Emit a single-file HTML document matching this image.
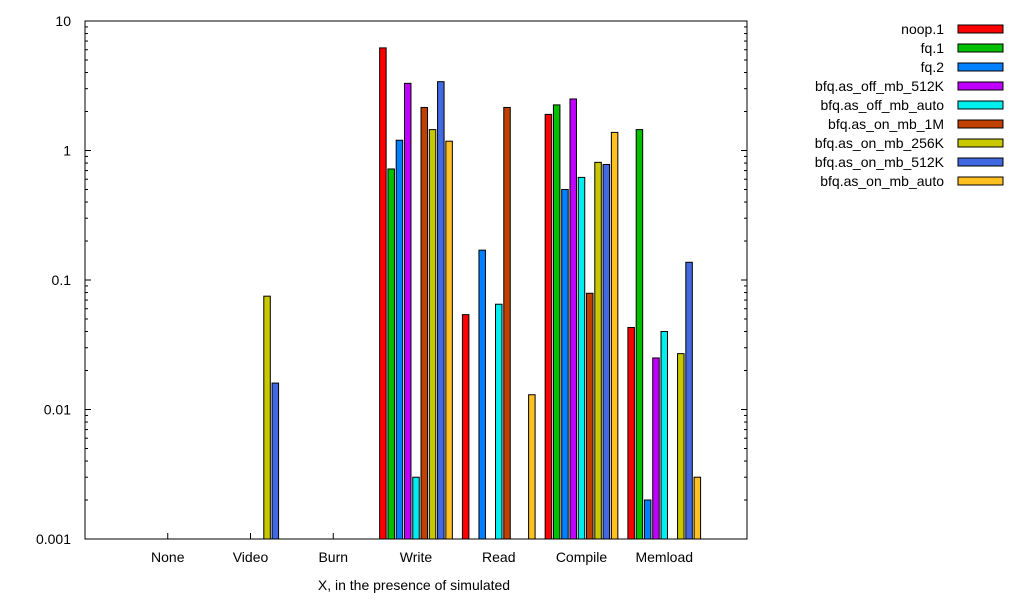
<!DOCTYPE html>
<html><head><meta charset="utf-8"><style>
body{margin:0;background:#fff}
svg{display:block;font-family:"Liberation Sans",sans-serif;font-size:14px}
</style></head><body>
<svg id="chart" width="1024" height="600" viewBox="0 0 1024 600" xmlns="http://www.w3.org/2000/svg">
<rect x="0" y="0" width="1024" height="600" fill="#fff"/>
<g id="grid"></g>
<g id="bars"></g>
<rect x="85" y="21" width="662" height="518" fill="none" stroke="#000" stroke-width="1"/>
<text x="414" y="590" text-anchor="middle">X, in the presence of simulated</text>
<g id="legend"></g>
</svg>
<script>
const categories = ["None","Video","Burn","Write","Read","Compile","Memload"];
const seriesNames = ["noop.1","fq.1","fq.2","bfq.as_off_mb_512K","bfq.as_off_mb_auto","bfq.as_on_mb_1M","bfq.as_on_mb_256K","bfq.as_on_mb_512K","bfq.as_on_mb_auto"];
const seriesColors = ["#ff0000","#00c000","#0080ff","#c000ff","#00eeee","#c04000","#c8c800","#4169e1","#ffc020"];
const noop1 = [null,null,null,6.2,0.054,1.9,0.043];
const fq1 = [null,null,null,0.72,null,2.25,1.45];
const fq2 = [null,null,null,1.2,0.17,0.5,0.002];
const offMb512K = [null,null,null,3.3,null,2.5,0.025];
const offMbAuto = [null,null,null,0.003,0.065,0.62,0.04];
const onMb1M = [null,null,null,2.15,2.15,0.079,null];
const onMb256K = [null,0.075,null,1.45,null,0.81,0.027];
const onMb512K = [null,0.016,null,3.4,null,0.78,0.137];
const onMbAuto = [null,null,null,1.18,0.013,1.38,0.003];
const seriesValues = [noop1,fq1,fq2,offMb512K,offMbAuto,onMb1M,onMb256K,onMb512K,onMbAuto];
const yTicks = [10,1,0.1,0.01,0.001];
const yTickLabels = ["10","1","0.1","0.01","0.001"];

const NS="http://www.w3.org/2000/svg";
const L=85,R=747,T=21,B=539;
const step=(R-L)/8;
function xScale(i){return L+(i+1)*step;}
function yScale(v){return B-(Math.log10(v)+3)/4*(B-T);}
function mk(tag,attrs,parent){const e=document.createElementNS(NS,tag);for(const k in attrs)e.setAttribute(k,attrs[k]);parent.appendChild(e);return e;}
const grid=document.getElementById('grid'),bars=document.getElementById('bars'),leg=document.getElementById('legend');
yTicks.forEach((v,i)=>{
  const y=yScale(v);
  const t=mk('line',{x1:L,x2:L+6,y1:y,y2:y,stroke:'#000'},grid);
  
  
  const t2=mk('line',{x1:R-6,x2:R,y1:y,y2:y,stroke:'#000'},grid);
  
  
  const lb=mk('text',{x:L-14,y:y+5,'text-anchor':'end'},grid);
  lb.textContent=yTickLabels[i];
  
  
  if(i<yTicks.length-1){
    for(let m=2;m<10;m++){
      const ym=yScale(v/10*m);
      const mt=mk('line',{x1:L,x2:L+3,y1:ym,y2:ym,stroke:'#000'},grid);
      
      
      const mt2=mk('line',{x1:R-3,x2:R,y1:ym,y2:ym,stroke:'#000'},grid);
      
      
    }
  }
});
categories.forEach((c,i)=>{
  const x=xScale(i);
  const t=mk('line',{x1:x,x2:x,y1:B,y2:B-6,stroke:'#000'},grid);
  
  
  const lb=mk('text',{x:x,y:562,'text-anchor':'middle'},grid);
  lb.textContent=c;
  
  
});
const pitch=step/10, bw=6.5;
seriesValues.forEach((vals,s)=>{
  vals.forEach((v,i)=>{
    if(v==null)return;
    const cx=xScale(i)+(s-4)*pitch;
    const y=yScale(v);
    const r=mk('rect',{x:cx-bw/2,y:y,width:bw,height:B-y,fill:seriesColors[s],stroke:'#000','stroke-width':1},bars);
    
    
  });
});
seriesNames.forEach((n,s)=>{
  const y=29+s*19;
  const t=mk('text',{x:944,y:y+5,'text-anchor':'end'},leg);
  t.textContent=n;
  
  
  const r=mk('rect',{x:958,y:y-4,width:45,height:8,fill:seriesColors[s],stroke:'#000','stroke-width':1},leg);
  
  
});
</script>
</body></html>
